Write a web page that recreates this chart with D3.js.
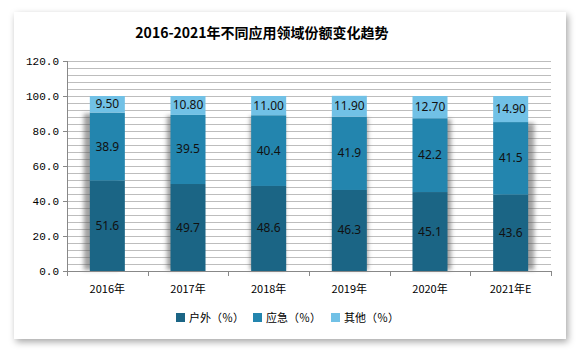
<!DOCTYPE html>
<html>
<head>
<meta charset="utf-8">
<script src="https://cdn.jsdelivr.net/npm/d3@7"></script>
<style>
  body { margin: 0; background: #fff; }
  .tick-y { font-family: "Liberation Mono", monospace; font-size: 11px; fill: #000; }
  .tick-x { font-family: "Noto Sans CJK SC", sans-serif; font-size: 11px; fill: #000; }
  .val { font-family: "Noto Sans", sans-serif; font-size: 12px; fill: #111; }
</style>
</head>
<body>
<div class="chart"></div>
<script>
var years = ["2016年", "2017年", "2018年", "2019年", "2020年", "2021年E"];
var outdoor = [51.6, 49.7, 48.6, 46.3, 45.1, 43.6];
var emergency = [38.9, 39.5, 40.4, 41.9, 42.2, 41.5];
var other = [9.50, 10.80, 11.00, 11.90, 12.70, 14.90];
var seriesNames = ["户外（％）", "应急（％）", "其他（％）"];
var yTicks = [0, 20, 40, 60, 80, 100, 120];

var colors = ["#1b6585", "#2385ae", "#71c1e6"];
var width = 581, height = 352;

var svg = d3.select(".chart").append("svg")
    .attr("width", width)
    .attr("height", height);

var defs = svg.append("defs");
defs.append("filter").attr("id", "cardShadow")
    .attr("x", "-10%").attr("y", "-10%").attr("width", "120%").attr("height", "120%")
    .append("feDropShadow")
    .attr("dx", 2).attr("dy", 3).attr("stdDeviation", 3.5)
    .attr("flood-color", "#000").attr("flood-opacity", 0.35);
defs.append("filter").attr("id", "barShadow")
    .attr("x", "-50%").attr("y", "-20%").attr("width", "200%").attr("height", "140%")
    .append("feGaussianBlur").attr("stdDeviation", 2.2);

// card
svg.append("rect")
    .attr("x", 14).attr("y", 12)
    .attr("width", 552).attr("height", 327)
    .attr("fill", "#fff")
    .attr("filter", "url(#cardShadow)");

// title
svg.append("text")
    .attr("x", 262).attr("y", 38)
    .attr("text-anchor", "middle")
    .style("font-family", "'Noto Sans CJK SC', sans-serif")
    .style("font-size", "14px")
    .style("font-weight", "bold")
    .text("2016-2021年不同应用领域份额变化趋势");

/************* scales ***************/
var x = d3.scaleBand()
    .domain(years)
    .range([67, 551])
    .paddingInner(0.566)
    .paddingOuter(0.283);

var y = d3.scaleLinear()
    .domain([0, 120])
    .range([271, 61]);

// minor grid every 4
var grid = svg.append("g").attr("class", "grid");
grid.selectAll("line")
    .data(d3.range(4, 121, 4))
    .enter().append("line")
    .attr("x1", 67).attr("x2", 551)
    .attr("y1", d => Math.round(y(d)) + 0.5)
    .attr("y2", d => Math.round(y(d)) + 0.5)
    .attr("stroke", "#bdbdbd")
    .attr("stroke-width", 1);

/************* stacked data ***************/
var rows = years.map(function(yr, i) {
    return { year: yr, s0: outdoor[i], s1: emergency[i], s2: other[i] };
});
var stack = d3.stack().keys(["s0", "s1", "s2"]);
var layers = stack(rows);

// shadows behind lower two segments
svg.append("g").attr("class", "shadows")
    .selectAll("rect")
    .data(rows)
    .enter().append("rect")
    .attr("x", (d, i) => x(d.year) + (i - 2.5) * 2.4)
    .attr("y", d => y(d.s0 + d.s1) + 1)
    .attr("width", x.bandwidth())
    .attr("height", d => y(0) - y(d.s0 + d.s1) - 2)
    .attr("fill", "#555")
    .attr("opacity", 0.55)
    .attr("filter", "url(#barShadow)");

var barGroups = svg.append("g").attr("class", "bars")
    .selectAll("g")
    .data(layers)
    .enter().append("g")
    .attr("fill", (d, i) => colors[i]);

barGroups.selectAll("rect")
    .data(d => d)
    .enter().append("rect")
    .attr("x", d => x(d.data.year))
    .attr("y", d => y(d[1]))
    .attr("width", x.bandwidth())
    .attr("height", d => y(d[0]) - y(d[1]));

// value labels
layers.forEach(function(layer, li) {
    svg.append("g").selectAll("text")
        .data(layer)
        .enter().append("text")
        .attr("class", "val")
        .attr("x", d => x(d.data.year) + x.bandwidth() / 2)
        .attr("y", d => (y(d[0]) + y(d[1])) / 2 + 4)
        .attr("text-anchor", "middle")
        .text(d => li == 2 ? (d[1] - d[0]).toFixed(2) : (d[1] - d[0]).toFixed(1));
});

/************* axes ***************/
var yAxis = svg.append("g").attr("class", "y-axis");
yAxis.append("line")
    .attr("x1", 67.5).attr("x2", 67.5)
    .attr("y1", y(120)).attr("y2", y(0))
    .attr("stroke", "#888");
yAxis.selectAll("line.t")
    .data(yTicks)
    .enter().append("line")
    .attr("class", "t")
    .attr("x1", 63).attr("x2", 67)
    .attr("y1", d => Math.round(y(d)) + 0.5)
    .attr("y2", d => Math.round(y(d)) + 0.5)
    .attr("stroke", "#888");
yAxis.selectAll("text")
    .data(yTicks)
    .enter().append("text")
    .attr("class", "tick-y")
    .attr("x", 59)
    .attr("y", d => y(d) + 4)
    .attr("text-anchor", "end")
    .text(d => d.toFixed(1));

var xAxis = svg.append("g").attr("class", "x-axis");
xAxis.append("line")
    .attr("x1", 67).attr("x2", 551)
    .attr("y1", 271.5).attr("y2", 271.5)
    .attr("stroke", "#888");
var step = x.step();
xAxis.selectAll("line.t")
    .data(d3.range(0, years.length + 1))
    .enter().append("line")
    .attr("class", "t")
    .attr("x1", d => Math.round(67 + d * step) + 0.5)
    .attr("x2", d => Math.round(67 + d * step) + 0.5)
    .attr("y1", 271).attr("y2", 276)
    .attr("stroke", "#888");
xAxis.selectAll("text")
    .data(years)
    .enter().append("text")
    .attr("class", "tick-x")
    .attr("x", d => x(d) + x.bandwidth() / 2)
    .attr("y", 293)
    .attr("text-anchor", "middle")
    .text(d => d);

/************* legend ***************/
var legendX = [176, 253, 331];
var legend = svg.append("g").attr("class", "legend");
seriesNames.forEach(function(name, i) {
    legend.append("rect")
        .attr("x", legendX[i]).attr("y", 313)
        .attr("width", 9).attr("height", 9)
        .attr("fill", colors[i]);
    legend.append("text")
        .attr("class", "tick-x")
        .attr("x", legendX[i] + 13)
        .attr("y", 322)
        .text(name);
});
</script>
</body>
</html>
